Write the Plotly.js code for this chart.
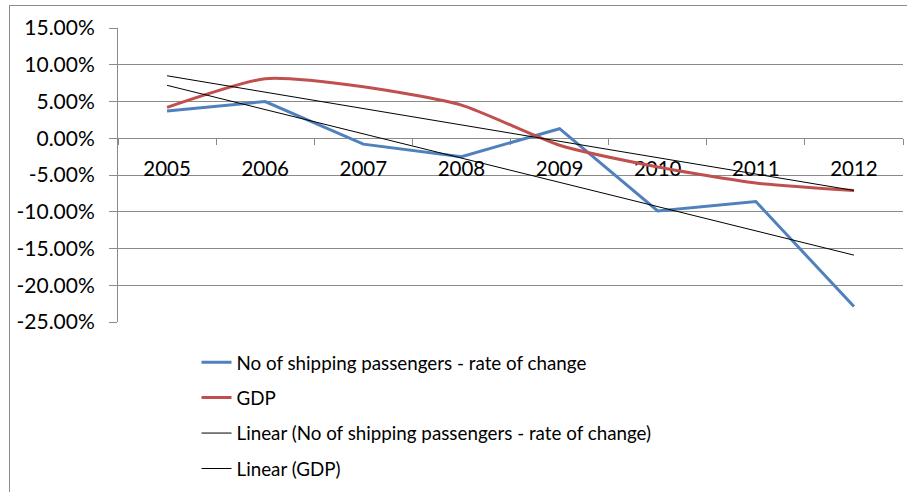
<!DOCTYPE html>
<html>
<head>
<meta charset="utf-8">
<script src="https://cdn.plot.ly/plotly-3.0.1.min.js"></script>
<style>
  html, body { margin: 0; padding: 0; background: #ffffff; }
  #wrap { position: relative; width: 907px; height: 492px; overflow: hidden; }
  #chart { position: absolute; left: 0; top: 0; width: 907px; height: 530px; }
  #frame { position: absolute; left: 9px; top: 5px; width: 910px; height: 500px;
           border-left: 1px solid #8c8c8c; border-top: 1px solid #8c8c8c; pointer-events: none; }
</style>
</head>
<body>
<div id="wrap">
  <div id="chart"></div>
  <div id="frame"></div>
</div>
<script>
// ---- data (percent values) ----
const years = ['2005', '2006', '2007', '2008', '2009', '2010', '2011', '2012'];
const passengers = [3.7, 5.0, -0.8, -2.5, 1.3, -9.9, -8.6, -22.9];
const gdp = [4.2, 8.1, 7.0, 4.5, -0.95, -3.9, -6.1, -7.1];
// trend-line end points (2005 and 2012) as drawn in the reference
const trendYears = ['2005', '2012'];
const trendPassengers = [7.2, -15.9];
const trendGdp = [8.5, -7.1];
const yTickVals = [15, 10, 5, 0, -5, -10, -15, -20, -25];
const yTickText = ['15.00%', '10.00%', '5.00%', '0.00%', '-5.00%', '-10.00%', '-15.00%', '-20.00%', '-25.00%'];
const names = [
  'No of shipping passengers - rate of change',
  'GDP',
  'Linear (No of shipping passengers - rate of change)',
  'Linear (GDP)'
];

const FONT = 'Lato, "Open Sans", "Liberation Sans", sans-serif';
const GRID = '#8a8a8a';

const traces = [
  { x: years, y: passengers, name: names[0], type: 'scatter', mode: 'lines',
    line: { color: '#4F81BD', width: 3 }, legendgroup: 'a' },
  { x: years, y: gdp, name: names[1], type: 'scatter', mode: 'lines',
    line: { color: '#C0504D', width: 3, shape: 'spline', smoothing: 0.6 }, legendgroup: 'b' },
  { x: trendYears, y: trendPassengers, name: names[2], type: 'scatter', mode: 'lines',
    line: { color: '#000000', width: 1 }, legendgroup: 'c' },
  { x: trendYears, y: trendGdp, name: names[3], type: 'scatter', mode: 'lines',
    line: { color: '#000000', width: 1 }, legendgroup: 'd' }
];

const layout = {
  width: 907, height: 530,
  margin: { l: 118, r: 4, t: 28, b: 208, pad: 0 },
  paper_bgcolor: '#ffffff', plot_bgcolor: '#ffffff',
  font: { family: FONT, size: 19, color: '#000000' },
  showlegend: true,
  hovermode: false,
  xaxis: {
    type: 'category', categoryorder: 'array', categoryarray: years,
    range: [-0.5, 7.5],
    anchor: 'free', position: 0.625,
    showline: true, linecolor: GRID, linewidth: 1,
    showgrid: false, zeroline: false,
    ticks: 'outside', ticklen: 6, tickcolor: GRID, tickwidth: 1,
    tickson: 'boundaries',
    ticklabelstandoff: 12,
    tickfont: { family: FONT, size: 20.5, color: '#000000' },
    layer: 'below traces', fixedrange: true
  },
  yaxis: {
    range: [-25, 15], domain: [0, 1],
    tickmode: 'array', tickvals: yTickVals, ticktext: yTickText,
    showgrid: true, gridcolor: GRID, gridwidth: 1,
    showline: true, linecolor: GRID, linewidth: 1,
    zeroline: false,
    ticks: 'outside', ticklen: 8, tickcolor: GRID, tickwidth: 1,
    ticklabelstandoff: 10,
    tickfont: { family: FONT, size: 21, color: '#000000' },
    layer: 'below traces', fixedrange: true
  },
  legend: {
    x: 0.1, xanchor: 'left', y: -0.073, yanchor: 'top',
    orientation: 'v', tracegroupgap: 8,
    font: { family: FONT, size: 18.8, color: '#000000' },
    bgcolor: 'rgba(0,0,0,0)', borderwidth: 0
  }
};

Plotly.newPlot('chart', traces, layout, { displayModeBar: false, staticPlot: true });
</script>
</body>
</html>
